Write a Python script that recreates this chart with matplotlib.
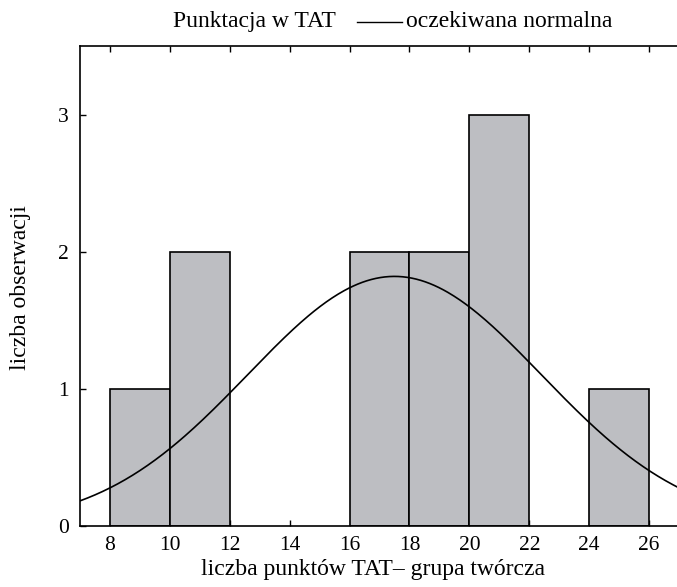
import numpy as np
import matplotlib
matplotlib.use("Agg")
import matplotlib.pyplot as plt
from matplotlib.lines import Line2D

# data
bin_left = [8, 10, 16, 18, 20, 24]
counts = [1, 2, 2, 2, 3, 1]
bin_width = 2
x_ticks = [8, 10, 12, 14, 16, 18, 20, 22, 24, 26]
y_ticks = [0, 1, 2, 3]
# expected normal parameters
norm_mean = 17.5
norm_sd = 4.9
norm_peak = 1.82

plt.rcParams['font.family'] = ['Liberation Serif', 'DejaVu Serif']

fig = plt.figure(figsize=(6.77, 5.87), dpi=100)
ax = fig.add_axes([80/677, 1-526/587, 1-80/677, (526-46)/587])

ax.bar(bin_left, counts, width=bin_width, align='edge', color='#bdbec2',
       edgecolor='black', linewidth=1.2, zorder=2)

xs = np.linspace(7, 27, 400)
ys = norm_peak * np.exp(-0.5 * ((xs - norm_mean) / norm_sd) ** 2)
ax.plot(xs, ys, color='black', linewidth=1.2, zorder=3)

ax.set_xlim(7, 7 + (677-80)/29.95)
ax.set_ylim(0, 3.5)
ax.set_xticks(x_ticks)
ax.set_yticks(y_ticks)
ax.tick_params(direction='in', length=4.5, width=1, top=True, right=False,
               labelsize=15.5)
ax.tick_params(axis='x', pad=7)
ax.tick_params(axis='y', pad=8)
ax.spines['right'].set_visible(False)
for s in ['left', 'top', 'bottom']:
    ax.spines[s].set_linewidth(1.2)

fig.text(373/677, 1-575/587, 'liczba punktów TAT– grupa twórcza', fontsize=17,
         ha='center', va='baseline')
fig.text(21/677, 1-288/587, 'liczba obserwacji', rotation=90, fontsize=17,
         ha='center', va='center')

# legend-like title
fig.text(173/677, 1-27/587, 'Punktacja w TAT', fontsize=17, ha='left', va='baseline')
fig.add_artist(Line2D([357/677, 402/677], [1-22/587, 1-22/587], color='black',
                      linewidth=1.0, transform=fig.transFigure))
fig.text(406/677, 1-27/587, 'oczekiwana normalna', fontsize=17, ha='left', va='baseline')

fig.savefig('out.png', dpi=100)
